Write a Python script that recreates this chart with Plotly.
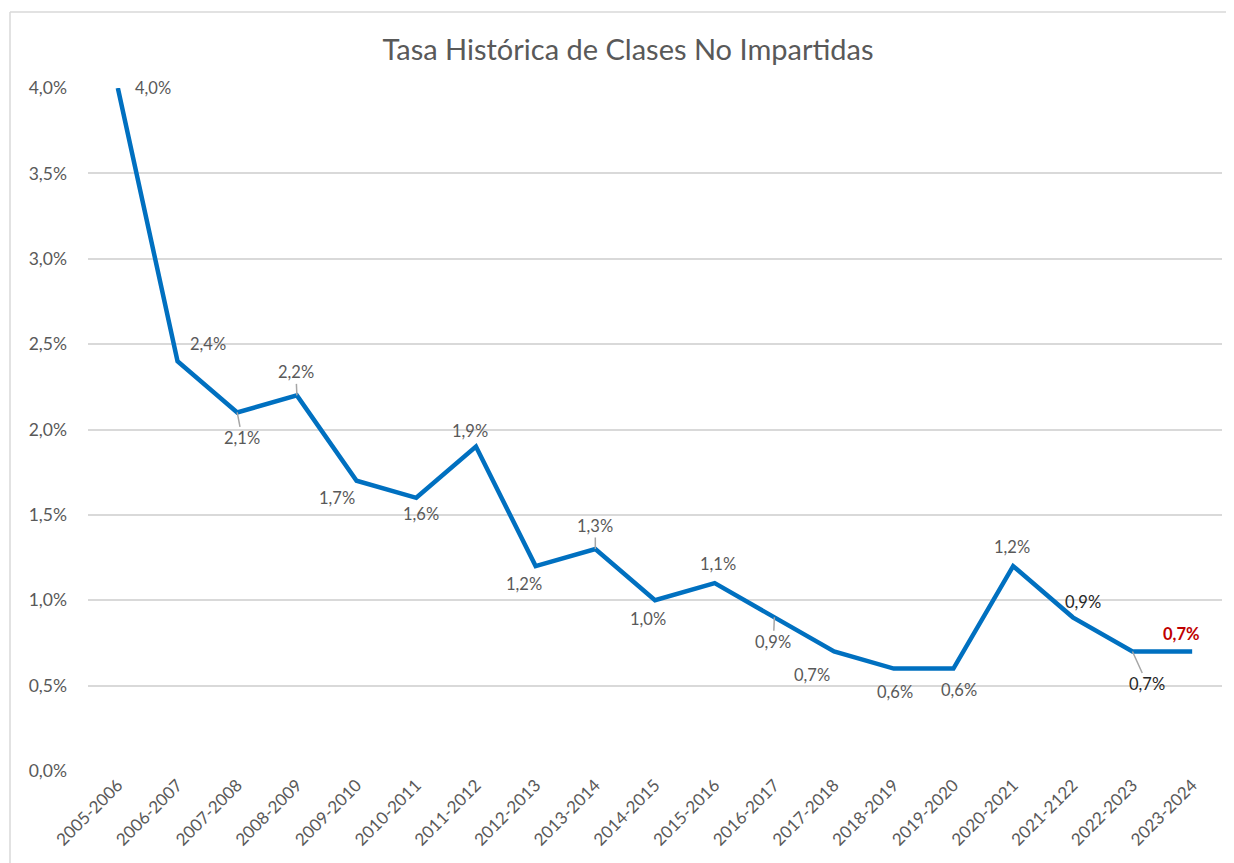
import plotly.graph_objects as go

categories = ["2005-2006", "2006-2007", "2007-2008", "2008-2009", "2009-2010",
              "2010-2011", "2011-2012", "2012-2013", "2013-2014", "2014-2015",
              "2015-2016", "2016-2017", "2017-2018", "2018-2019", "2019-2020",
              "2020-2021", "2021-2122", "2022-2023", "2023-2024"]
rates = [4.0, 2.4, 2.1, 2.2, 1.7, 1.6, 1.9, 1.2, 1.3, 1.0,
         1.1, 0.9, 0.7, 0.6, 0.6, 1.2, 0.9, 0.7, 0.7]
y_ticks = [0.0, 0.5, 1.0, 1.5, 2.0, 2.5, 3.0, 3.5, 4.0]

# label offsets in pixels (dx, dy; dy positive = down) and leader-line flags
label_dx = [35, 30, 5, -1, -20, 5, -6, -12, 0, -7, 3, -1, -22, 1, 6, -1, 10, 15, -11]
label_dy = [0, -17, 26, -23, 17, 16, -16, 18, -23, 19, -19, 25, 24, 23, 21, -19, -15, 33, -17]
leader = [False, False, True, True, False, False, False, False, True, False,
          False, True, False, False, False, False, False, True, False]

FONT = "Lato, 'Open Sans', sans-serif"
GREY = "#595959"

# page body has an 8px margin: figure is placed at (8, 8) in the window
OFF = 8
L, T = 88 - OFF, 88 - OFF
W, H = 1234 - OFF, 863 - OFF
pw = 1222 - 88
ph = 771 - 88
R = W - L - pw
B = H - T - ph

fig = go.Figure()
fig.add_trace(go.Scatter(
    x=categories, y=rates, mode="lines",
    line=dict(color="#0070C0", width=4.5),
    cliponaxis=False, hoverinfo="skip", showlegend=False,
))

n = len(categories)
for i, (c, v) in enumerate(zip(categories, rates)):
    txt = f"{v:.1f}".replace(".", ",") + "%"
    color = GREY
    bold = False
    if i in (16, 17):
        color = "#262626"
    if i == n - 1:
        color = "#C00000"
        bold = True
    fig.add_annotation(
        x=c, y=v, xref="x", yref="y",
        text=f"<b>{txt}</b>" if bold else txt,
        showarrow=True, arrowhead=0, standoff=0, startstandoff=0,
        arrowwidth=1.5,
        arrowcolor="#A6A6A6" if leader[i] else "rgba(0,0,0,0)",
        ax=label_dx[i], ay=label_dy[i],
        font=dict(family=FONT, size=16.5, color=color),
    )

# outer chart border (top and left)
x0 = (10 - 88) / pw
y1 = 1 + (88 - 12) / ph
fig.add_shape(type="line", xref="paper", yref="paper", x0=x0, x1=x0, y0=-1, y1=y1,
              line=dict(color="#D9D9D9", width=1.5))
fig.add_shape(type="line", xref="paper", yref="paper", x0=x0, x1=2, y0=y1, y1=y1,
              line=dict(color="#D9D9D9", width=1.5))

fig.update_layout(
    width=W, height=H,
    margin=dict(l=L, r=R, t=T, b=B),
    paper_bgcolor="white", plot_bgcolor="white",
    separators=",.",
    title=dict(text="Tasa Histórica de Clases No Impartidas",
               x=(628 - 88) / pw, xref="paper", xanchor="center",
               y=1 - (50 - OFF) / H, yref="container", yanchor="middle",
               font=dict(family=FONT, size=29, color=GREY)),
    font=dict(family=FONT, color=GREY),
)
fig.update_xaxes(
    type="category", range=[-0.5, n - 0.5],
    tickangle=-45, showgrid=False, showline=False, ticks="",
    tickfont=dict(family=FONT, size=17, color=GREY),
)
fig.update_yaxes(
    range=[0, 4.0], tickvals=y_ticks,
    ticktext=[f"{t:.1f}".replace(".", ",") + "%" for t in y_ticks],
    showgrid=True, gridcolor="#D9D9D9", gridwidth=1.5,
    zeroline=False, showline=False, ticks="",
    ticklabelstandoff=20,
    tickfont=dict(family=FONT, size=17.5, color=GREY),
)

fig.write_html("out.html")
